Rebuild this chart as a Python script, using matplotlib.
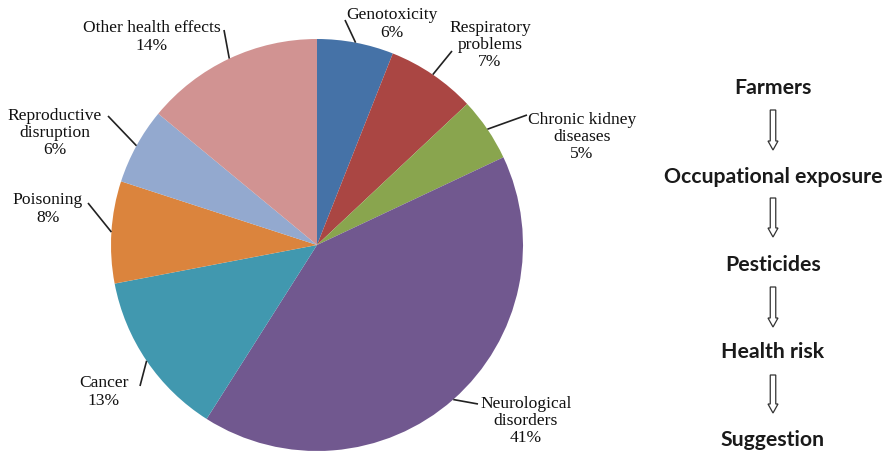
import numpy as np
import matplotlib
matplotlib.use("Agg")
import matplotlib.pyplot as plt
from matplotlib.patches import FancyArrow

# ---- data ----
categories = ["Genotoxicity", "Respiratory\nproblems", "Chronic kidney\ndiseases",
              "Neurological\ndisorders", "Cancer", "Poisoning",
              "Reproductive\ndisruption", "Other health effects"]
values = [6, 7, 5, 41, 13, 8, 6, 14]
colors = ["#4572A7", "#AA4643", "#89A54E", "#71588F", "#4198AF", "#DB843D",
          "#93A9CF", "#D19392"]
flow_steps = ["Farmers", "Occupational exposure", "Pesticides", "Health risk", "Suggestion"]

W, H = 883, 454
fig = plt.figure(figsize=(W / 100, H / 100), dpi=100)
ax = fig.add_axes([0, 0, 1, 1])
ax.set_axis_off()

def Y(y):
    return H - y

cx, cy, R = 317, 245, 206
wedges, _ = ax.pie(values, colors=colors, startangle=90, counterclock=False,
                   center=(cx, Y(cy)), radius=R,
                   wedgeprops=dict(edgecolor="none", linewidth=0))
ax.set_xlim(0, W)
ax.set_ylim(0, H)
ax.set_aspect("equal")

# label text positions (center of text block) and leader end points (pixel coords)
label_pos = [(392, 24), (490, 45), (582, 137), (526, 421), (104, 392), (48, 209),
             (55, 133), (152, 37)]
leader_end = [(345, 20), (452, 51), (527, 115), (478, 404), (140, 386), (88, 203),
              (108, 116), (224, 30)]

serif = "Liberation Serif"
for w, cat, v, (tx, ty), (lx, ly) in zip(wedges, categories, values, label_pos, leader_end):
    ang = np.deg2rad((w.theta1 + w.theta2) / 2)
    ex = w.center[0] + w.r * np.cos(ang)
    ey = w.center[1] + w.r * np.sin(ang)
    ax.plot([ex, lx], [ey, Y(ly)], color="#222222", lw=1.2, solid_capstyle="butt")
    ax.text(tx, Y(ty), f"{cat}\n{v}%", ha="center", va="center", family=serif,
            fontsize=12.6, color="#111111", linespacing=1.12, fontweight="normal")

# right-hand flow
fx = 773
text_y = [88, 177, 265, 352, 440]
for s, ty in zip(flow_steps, text_y):
    ax.text(fx, Y(ty), s, ha="center", va="center", family=["Lato", "DejaVu Sans"],
            fontsize=15.3, fontweight="bold", color="#1a1a1a")

arrow_spans = [(110, 150), (198, 237), (287, 327), (375, 413)]
for y0, y1 in arrow_spans:
    ar = FancyArrow(fx, Y(y0), 0, -(y1 - y0), width=5.5, head_width=10, head_length=9,
                    length_includes_head=True, facecolor="white", edgecolor="#333333",
                    linewidth=0.9)
    ax.add_patch(ar)

fig.savefig("out.png", dpi=100)
